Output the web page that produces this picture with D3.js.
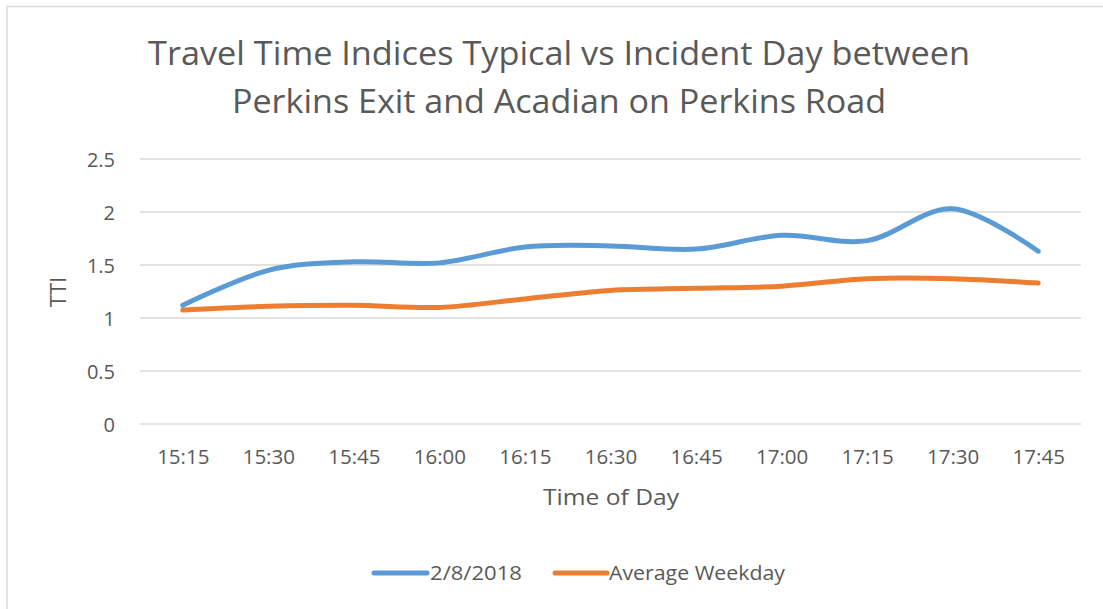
<!DOCTYPE html>
<html>
<head>
<meta charset="utf-8">
<script src="https://cdn.jsdelivr.net/npm/d3@7"></script>
<style>
  html, body { margin: 0; padding: 0; background: #fff; }
  svg { display: block; }
  text { font-family: "Open Sans", "Liberation Sans", sans-serif; fill: #595959; }
</style>
</head>
<body>
<svg id="chart" width="1103" height="609"></svg>
<script>
const categories = ["15:15","15:30","15:45","16:00","16:15","16:30","16:45","17:00","17:15","17:30","17:45"];
const incidentDay = [1.12, 1.45, 1.53, 1.52, 1.67, 1.68, 1.65, 1.78, 1.73, 2.03, 1.63];
const averageWeekday = [1.075, 1.11, 1.12, 1.10, 1.18, 1.26, 1.28, 1.30, 1.37, 1.37, 1.33];
const yTicks = [0, 0.5, 1, 1.5, 2, 2.5];
const seriesNames = ["2/8/2018", "Average Weekday"];
const seriesColors = ["#5B9BD5", "#ED7D31"];
const titleLines = ["Travel Time Indices Typical vs Incident Day between", "Perkins Exit and Acadian on Perkins Road"];

const svg = d3.select("#chart");

// outer chart border (top & left visible)
svg.append("rect").attr("x", 7).attr("y", 6.5).attr("width", 1200).attr("height", 700)
  .attr("fill", "none").attr("stroke", "#d9d9d9").attr("stroke-width", 1.5);

const x = d3.scalePoint().domain(categories).range([140, 1081]).padding(0.5);
const y = d3.scaleLinear().domain([0, 2.5]).range([424, 159]);

// gridlines
svg.append("g").selectAll("line").data(yTicks).join("line")
  .attr("x1", 140).attr("x2", 1081)
  .attr("y1", d => y(d)).attr("y2", d => y(d))
  .attr("stroke", "#d9d9d9").attr("stroke-width", 1.3);

// y axis labels
const yAxis = d3.axisLeft(y).tickValues(yTicks).tickSize(0).tickPadding(0).tickFormat(d3.format("~g"));
const gy = svg.append("g").attr("transform", "translate(115,0)").call(yAxis);
gy.select(".domain").remove();
gy.selectAll("text").attr("font-size", 20).attr("fill", "#595959")
  .attr("font-family", "'Open Sans', sans-serif").attr("dy", "0.35em");

// x axis labels
const xAxis = d3.axisBottom(x).tickSize(0).tickPadding(0);
const gx = svg.append("g").attr("transform", "translate(0,448)").call(xAxis);
gx.select(".domain").remove();
gx.selectAll("text").attr("font-size", 20.5).attr("fill", "#595959")
  .attr("font-family", "'Open Sans', sans-serif").attr("dy", "0.78em");

// lines
const line = d3.line().x((d, i) => x(categories[i])).y(d => y(d)).curve(d3.curveCatmullRom.alpha(0));
[incidentDay, averageWeekday].forEach((s, i) => {
  svg.append("path").datum(s).attr("d", line)
    .attr("fill", "none").attr("stroke", seriesColors[i]).attr("stroke-width", 5)
    .attr("stroke-linecap", "round").attr("stroke-linejoin", "round");
});

// title
svg.append("text").attr("x", 559).attr("y", 65).attr("text-anchor", "middle")
  .attr("font-size", 32).attr("textLength", 822).attr("lengthAdjust", "spacingAndGlyphs")
  .text(titleLines[0]);
svg.append("text").attr("x", 559).attr("y", 113).attr("text-anchor", "middle")
  .attr("font-size", 32).attr("textLength", 654).attr("lengthAdjust", "spacingAndGlyphs")
  .text(titleLines[1]);

// axis titles
svg.append("text").attr("x", 611).attr("y", 505).attr("text-anchor", "middle")
  .attr("font-size", 22).attr("textLength", 136).attr("lengthAdjust", "spacingAndGlyphs")
  .text("Time of Day");
svg.append("text").attr("transform", "translate(66,292) rotate(-90)").attr("text-anchor", "middle")
  .attr("font-size", 22).text("TTI");

// legend
const legendItems = [
  { name: seriesNames[0], color: seriesColors[0], x1: 374, x2: 427, tx: 430, tl: 92 },
  { name: seriesNames[1], color: seriesColors[1], x1: 555, x2: 607, tx: 609, tl: 176 }
];
const lg = svg.append("g");
legendItems.forEach(it => {
  lg.append("line").attr("x1", it.x1).attr("x2", it.x2).attr("y1", 573).attr("y2", 573)
    .attr("stroke", it.color).attr("stroke-width", 5).attr("stroke-linecap", "round");
  lg.append("text").attr("x", it.tx).attr("y", 580).attr("font-size", 19.5)
    .attr("textLength", it.tl).attr("lengthAdjust", "spacingAndGlyphs").text(it.name);
});
</script>
</body>
</html>
